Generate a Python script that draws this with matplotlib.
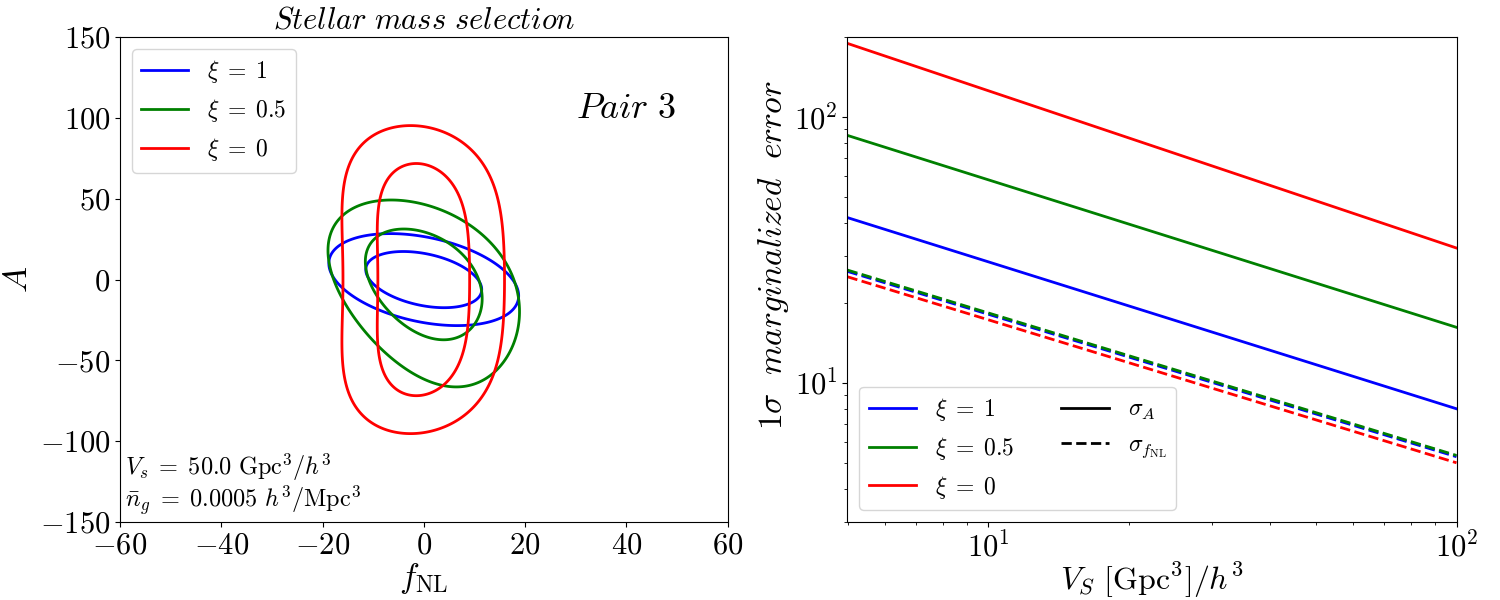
import numpy as np
import matplotlib
matplotlib.use("Agg")
import matplotlib.pyplot as plt
from matplotlib.lines import Line2D

plt.rcParams['font.family'] = 'serif'
plt.rcParams['font.serif'] = ['cmr10', 'DejaVu Serif']
plt.rcParams['mathtext.fontset'] = 'cm'
plt.rcParams['axes.formatter.use_mathtext'] = True
plt.rcParams['axes.unicode_minus'] = True

# ---- left panel: contour model per xi ----
xi_labels = [r'$\xi\;=\;1$', r'$\xi\;=\;0.5$', r'$\xi\;=\;0$']
xi_colors = ['blue', 'green', 'red']
# u = lin*A + quad*A^2 ;  chi2 = u^2 + ((f - shear*u)/width)^2
lin_coef = [0.0872, 0.0454, 0.0]
quad_coef = [0.0, 1.139e-4, 2.495e-4]
shear = [-2.66, -2.56, -1.15]
width = [7.07, 7.08, 7.04]
conf_probs = [0.683, 0.954]

# ---- right panel: marginalized errors vs survey volume ----
V_survey = [5.0, 100.0]
sigA_xi1 = [41.9, 8.0]
sigA_xi05 = [85.4, 16.2]
sigA_xi0 = [189.5, 32.2]
sigF_xi1 = [26.3, 5.28]
sigF_xi05 = [26.6, 5.34]
sigF_xi0 = [25.1, 5.01]


def mass_levels(P, probs):
    p = np.sort(P.ravel())[::-1]
    c = np.cumsum(p)
    c /= c[-1]
    return sorted(p[np.searchsorted(c, pr)] for pr in probs)


fig = plt.figure(figsize=(15, 6), dpi=100)
ax1 = fig.add_axes([0.08, 0.13, 0.405, 0.808])
ax2 = fig.add_axes([0.565, 0.13, 0.406, 0.808])

f = np.linspace(-60, 60, 801)
A = np.linspace(-150, 150, 1201)
F, AA = np.meshgrid(f, A)
for i in range(3):
    u = lin_coef[i] * AA + quad_coef[i] * AA**2
    chi2 = u**2 + ((F - shear[i] * u) / width[i])**2
    P = np.exp(-0.5 * chi2)
    ax1.contour(F, AA, P, levels=mass_levels(P, conf_probs),
                colors=xi_colors[i], linewidths=2)

handles = [Line2D([], [], color=c, lw=2, label=l) for c, l in zip(xi_colors, xi_labels)]
ax1.legend(handles=handles, loc='upper left', fontsize=17)
ax1.set_xlim(-60, 60)
ax1.set_ylim(-150, 150)
ax1.set_xticks(np.arange(-60, 61, 20))
ax1.set_yticks(np.arange(-150, 151, 50))
ax1.tick_params(labelsize=22)
ax1.set_xlabel(r'$f_{\rm NL}$', fontsize=24, labelpad=1)
ax1.set_ylabel(r'$A$', fontsize=25)
ax1.set_title(r'$Stellar\ mass\ selection$', fontsize=22)
ax1.text(30, 100, r'$Pair\ 3$', fontsize=26)
ax1.text(-59, -121, r'$V_s\;=\;50.0\ \mathrm{Gpc}^3/h^3$', fontsize=17.5)
ax1.text(-59, -141, r'$\bar{n}_g\;=\;0.0005\ h^3/\mathrm{Mpc}^3$', fontsize=17.5)

# right panel
ax2.plot(V_survey, sigA_xi1, color='blue', lw=2)
ax2.plot(V_survey, sigA_xi05, color='green', lw=2)
ax2.plot(V_survey, sigA_xi0, color='red', lw=2)
ax2.plot(V_survey, sigF_xi1, color='blue', lw=2, ls='--')
ax2.plot(V_survey, sigF_xi05, color='green', lw=2, ls='--')
ax2.plot(V_survey, sigF_xi0, color='red', lw=2, ls='--')
ax2.set_xscale('log')
ax2.set_yscale('log')
ax2.set_xlim(5, 100)
ax2.set_ylim(3, 200)
ax2.tick_params(labelsize=22)
ax2.set_xlabel(r'$V_S\ [\mathrm{Gpc}^3]/h^3$', fontsize=23, labelpad=-2)
ax2.set_ylabel(r'$1\sigma\ \ marginalized\ \ error$', fontsize=24, labelpad=2)
ax2.yaxis.label.set_y(0.55)
h2 = handles + [Line2D([], [], color='k', lw=2, label=r'$\sigma_A$'),
                Line2D([], [], color='k', lw=2, ls='--', label=r'$\sigma_{f_{\rm NL}}$')]
ax2.legend(handles=h2, loc='lower left', ncol=2, fontsize=17)

fig.savefig('out.png', dpi=100)
